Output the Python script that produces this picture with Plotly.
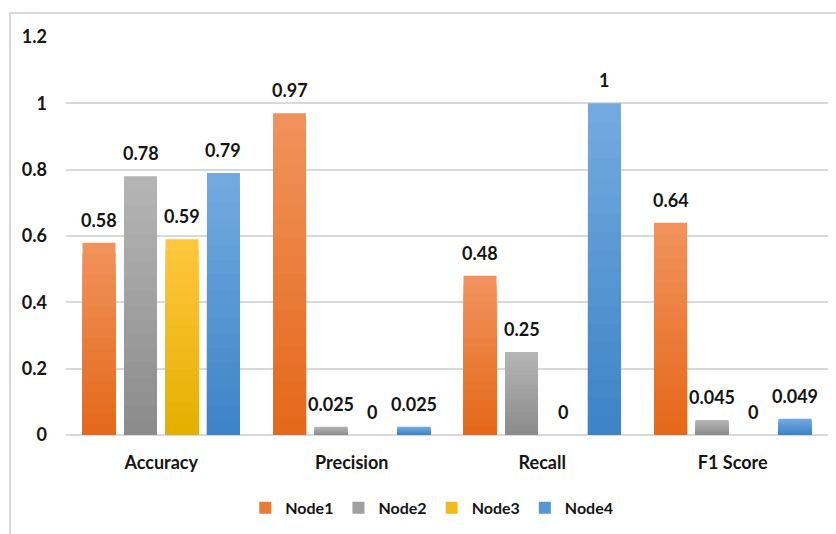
import plotly.graph_objects as go

# Metrics per node
categories = ["Accuracy", "Precision", "Recall", "F1 Score"]
node_names = ["Node1", "Node2", "Node3", "Node4"]
node1 = [0.58, 0.97, 0.48, 0.64]
node2 = [0.78, 0.025, 0.25, 0.045]
node3 = [0.59, 0, 0, 0]
node4 = [0.79, 0.025, 1, 0.049]
series = [node1, node2, node3, node4]

# Vertical gradient per node: (top colour, bottom colour)
grad = [
    ((241, 146, 92), (228, 105, 26)),
    ((180, 180, 180), (140, 140, 140)),
    ((255, 198, 62), (228, 176, 0)),
    ((114, 170, 223), (62, 132, 199)),
]

FONT = "Lato"
TXT = "#141414"
N_STEPS = 18
BARGAP = 0.129
GROUPGAP = 0.205

fig = go.Figure()

for i, (name, vals) in enumerate(zip(node_names, series)):
    top, bot = grad[i]
    for k in range(N_STEPS, 0, -1):
        f = k / N_STEPS
        t = (N_STEPS - k) / (N_STEPS - 1)  # 0 at top layer, 1 at bottom layer
        c = tuple(round(top[j] + (bot[j] - top[j]) * t) for j in range(3))
        fig.add_trace(go.Bar(
            x=categories,
            y=[v * f for v in vals],
            name=name,
            offsetgroup=name,
            marker=dict(color="rgb(%d,%d,%d)" % c, line=dict(width=0)),
            showlegend=(k == N_STEPS // 2),
            hoverinfo="skip" if k != N_STEPS else None,
        ))

# Value labels above each bar
slot = (1 - BARGAP) / len(series)
annotations = []
for i, vals in enumerate(series):
    for ci, v in enumerate(vals):
        annotations.append(dict(
            x=ci + (i - (len(series) - 1) / 2) * slot,
            y=v,
            xref="x", yref="y",
            text=f"{v:g}",
            showarrow=False,
            yanchor="bottom",
            yshift=10,
            font=dict(family=FONT, size=18, color=TXT, weight="bold"),
        ))

fig.update_layout(
    width=836, height=534,
    margin=dict(l=66, r=8, t=37, b=99),
    paper_bgcolor="white",
    plot_bgcolor="white",
    barmode="group",
    bargap=BARGAP,
    bargroupgap=GROUPGAP,
    font=dict(family=FONT, size=18, color=TXT, weight="bold"),
    annotations=annotations,
    legend=dict(
        orientation="h",
        x=0.48, xanchor="center",
        y=-0.183, yanchor="middle",
        traceorder="normal",
        font=dict(family=FONT, size=16, color=TXT, weight="bold"),
        itemwidth=30,
    ),
    shapes=[dict(
        type="rect", xref="paper", yref="paper",
        x0=-0.0735, x1=1.1, y0=-0.4, y1=1.060,
        line=dict(color="#D9D9D9", width=2),
        fillcolor="rgba(0,0,0,0)",
        layer="below",
    )],
)

fig.update_xaxes(
    type="category",
    showgrid=False,
    showline=False,
    ticks="",
    ticklabelstandoff=15,
    tickfont=dict(family=FONT, size=18, color=TXT, weight="bold"),
)
fig.update_yaxes(
    range=[0, 1.2],
    dtick=0.2,
    tick0=0,
    showgrid=True,
    gridcolor="#D9D9D9",
    gridwidth=1.5,
    zeroline=True,
    zerolinecolor="#D9D9D9",
    zerolinewidth=1.5,
    showline=False,
    ticks="",
    ticklabelstandoff=18,
    tickfont=dict(family=FONT, size=18, color=TXT, weight="bold"),
)

fig.write_html("out.html")
